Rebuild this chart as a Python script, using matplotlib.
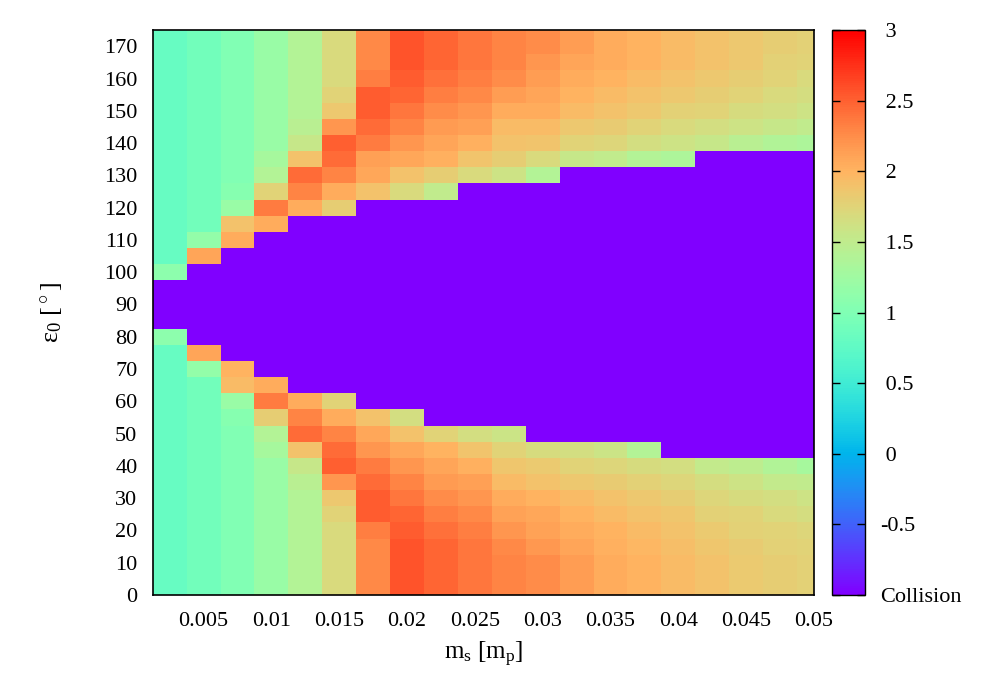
import numpy as np
import matplotlib.pyplot as plt

plt.rcParams["font.family"] = ["Liberation Serif", "DejaVu Serif"]
plt.rcParams["mathtext.fontset"] = "custom"
plt.rcParams["mathtext.rm"] = "Liberation Serif"
plt.rcParams["mathtext.it"] = "Liberation Serif"

# satellite mass [m_p] (columns) and initial obliquity [deg] (rows)
m_s = [0.0025, 0.005, 0.0075, 0.01, 0.0125, 0.015, 0.0175, 0.02, 0.0225, 0.025,
       0.0275, 0.03, 0.0325, 0.035, 0.0375, 0.04, 0.0425, 0.045, 0.0475, 0.05]
eps0 = [0, 5, 10, 15, 20, 25, 30, 35, 40, 45, 50, 55, 60, 65, 70, 75, 80, 85,
        90, 95, 100, 105, 110, 115, 120, 125, 130, 135, 140, 145, 150, 155,
        160, 165, 170, 175]

C = -1.0  # collision

# one list per m_s column, rows eps0 = 0 ... 175
col_01 = [0.8]*16 + [1.1] + [C]*3 + [1.1] + [0.8]*15
col_02 = [0.9]*14 + [1.15, 2.1] + [C]*5 + [2.1, 1.15] + [0.9]*13
col_03 = [1.0]*11 + [1.05, 1.2, 1.95, 2.0] + [C]*7 + [2.05, 1.9, 1.2, 1.05] + [1.0]*10
col_04 = [1.2]*9 + [1.3, 1.4, 1.8, 2.35, 2.05] + [C]*9 + [2.05, 2.35, 1.75, 1.4, 1.3] + [1.2]*8
col_05 = [1.4]*7 + [1.45, 1.55, 1.9, 2.45, 2.3, 2.05] + [C]*11 + \
         [2.05, 2.3, 2.45, 1.9, 1.55, 1.45] + [1.4]*6
col_06 = [1.7]*5 + [1.75, 1.85, 2.2, 2.5, 2.45, 2.3, 2.05, 1.75] + [C]*11 + \
         [1.8, 2.05, 2.3, 2.45, 2.5, 2.2, 1.85, 1.75] + [1.7]*4
col_07 = [2.27]*4 + [2.33, 2.52, 2.52, 2.45, 2.35, 2.2, 2.08, 1.9] + [C]*13 + \
         [1.9, 2.08, 2.13, 2.35, 2.45, 2.52, 2.52, 2.33] + [2.27]*3
col_08 = [2.57]*4 + [2.52, 2.47, 2.38, 2.3, 2.2, 2.08, 1.9, 1.65] + [C]*13 + \
         [1.7, 1.9, 2.08, 2.2, 2.3, 2.38, 2.47, 2.52] + [2.57]*3
col_09 = [2.47]*4 + [2.42, 2.33, 2.25, 2.17, 2.1, 2.0, 1.75] + [C]*14 + \
         [1.5, 1.8, 2.02, 2.1, 2.17, 2.25, 2.33, 2.42] + [2.47]*3
col_10 = [2.38]*4 + [2.33, 2.27, 2.2, 2.13, 2.03, 1.88, 1.65] + [C]*15 + \
         [1.7, 1.88, 2.03, 2.13, 2.2, 2.27, 2.33] + [2.38]*3
col_11 = [2.3]*3 + [2.27, 2.2, 2.12, 2.05, 1.95, 1.87, 1.75, 1.58] + [C]*15 + \
         [1.6, 1.8, 1.9, 1.95, 2.05, 2.15, 2.25, 2.3] + [2.3]*2
col_12 = [2.25]*3 + [2.18, 2.12, 2.08, 2.0, 1.9, 1.83, 1.68] + [C]*16 + \
         [1.4, 1.7, 1.88, 1.95, 2.05, 2.1, 2.15, 2.2] + [2.25]*2
col_13 = [2.15]*3 + [2.1, 2.05, 2.0, 1.95, 1.85, 1.75, 1.65] + [C]*17 + \
         [1.55, 1.75, 1.85, 1.95, 2.0, 2.05, 2.1] + [2.15]*2
col_14 = [2.05]*3 + [2.03, 2.0, 1.95, 1.9, 1.82, 1.72, 1.58] + [C]*17 + \
         [1.5, 1.72, 1.82, 1.9, 1.95, 2.0, 2.05] + [2.05]*2
col_15 = [2.0]*3 + [1.98, 1.95, 1.9, 1.85, 1.78, 1.68, 1.4] + [C]*17 + \
         [1.4, 1.65, 1.75, 1.85, 1.9, 1.95, 2.0] + [2.0]*2
col_16 = [1.95]*3 + [1.93, 1.9, 1.87, 1.8, 1.72, 1.65] + [C]*18 + \
         [1.35, 1.6, 1.7, 1.78, 1.85, 1.9, 1.95] + [1.95]*2
col_17 = [1.9]*3 + [1.87, 1.84, 1.78, 1.73, 1.67, 1.52] + [C]*19 + \
         [1.55, 1.65, 1.75, 1.8, 1.85, 1.9] + [1.9]*2
col_18 = [1.84]*3 + [1.82, 1.78, 1.75, 1.68, 1.6, 1.47] + [C]*19 + \
         [1.45, 1.6, 1.68, 1.75, 1.8, 1.85] + [1.85]*2
col_19 = [1.8]*3 + [1.77, 1.75, 1.7, 1.65, 1.52, 1.38] + [C]*19 + \
         [1.38, 1.55, 1.65, 1.7, 1.75, 1.78] + [1.8]*2
col_20 = [1.77]*3 + [1.75, 1.72, 1.66, 1.6, 1.5, 1.3] + [C]*19 + \
         [1.35, 1.5, 1.6, 1.67, 1.7, 1.75] + [1.77]*2

columns = [col_01, col_02, col_03, col_04, col_05, col_06, col_07, col_08,
           col_09, col_10, col_11, col_12, col_13, col_14, col_15, col_16,
           col_17, col_18, col_19, col_20]

x_ticks = [0.005, 0.01, 0.015, 0.02, 0.025, 0.03, 0.035, 0.04, 0.045, 0.05]
x_ticklabels = ["0.005", "0.01", "0.015", "0.02", "0.025", "0.03",
                "0.035", "0.04", "0.045", "0.05"]
cbar_ticks = [-1, -0.5, 0, 0.5, 1, 1.5, 2, 2.5, 3]
cbar_labels = ["Collision", "-0.5", " 0", " 0.5", " 1", " 1.5", " 2", " 2.5", " 3"]

grid = np.array(columns).T
assert grid.shape == (len(eps0), len(m_s))

dx = m_s[1] - m_s[0]
dy = eps0[1] - eps0[0]
x_edges = np.append(np.array(m_s) - dx/2, m_s[-1] + dx/2)
y_edges = np.append(np.array(eps0) - dy/2, eps0[-1] + dy/2)

fig = plt.figure(figsize=(10, 7), dpi=100)
ax = fig.add_axes([0.1527, 0.15, 0.6613, 0.807])
mesh = ax.pcolormesh(x_edges, y_edges, grid, cmap="rainbow", vmin=-1, vmax=3)
ax.set_xlim(m_s[0] - dx/2, m_s[-1])
ax.set_ylim(eps0[0], eps0[-1])

ax.set_xticks(x_ticks)
ax.set_xticklabels(x_ticklabels)
ax.set_yticks(range(0, 171, 10))
ax.tick_params(length=0, labelsize=16)
ax.tick_params(axis="x", pad=12)
ax.tick_params(axis="y", pad=11)
for s in ax.spines.values():
    s.set_linewidth(1.2)

ax.set_xlabel(r"$\mathrm{m_s\ [m_p]}$", fontsize=18, labelpad=7)
ax.set_ylabel(r"$\mathrm{\varepsilon_0\ [^\circ]}$", fontsize=19, labelpad=28)

cax = fig.add_axes([0.832, 0.15, 0.033, 0.807])
cb = fig.colorbar(mesh, cax=cax, ticks=cbar_ticks)
cb.ax.set_yticklabels(cbar_labels)
cb.outline.set_linewidth(1.0)
cax.tick_params(axis="y", direction="in", length=6, width=1, labelsize=16,
                left=True, right=True, pad=11)

fig.savefig("out.png", dpi=100)
